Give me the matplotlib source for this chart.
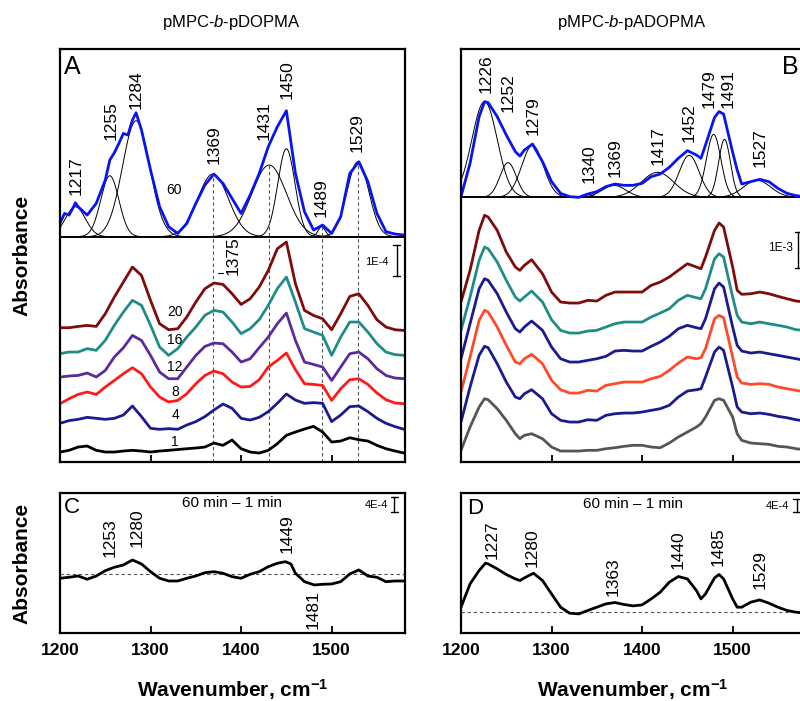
import numpy as np
import matplotlib
matplotlib.use("Agg")
from matplotlib import pyplot as plt

plt.rcParams['font.family'] = ['Liberation Sans', 'DejaVu Sans']
plt.rcParams['mathtext.fontset'] = 'custom'
plt.rcParams['mathtext.rm'] = 'Liberation Sans'
plt.rcParams['mathtext.it'] = 'Liberation Sans:italic'
plt.rcParams['mathtext.bf'] = 'Liberation Sans:bold'
plt.rcParams['lines.solid_joinstyle'] = 'round'
plt.rcParams['lines.solid_capstyle'] = 'round'

# ---------------- panel A : pMPC-b-pDOPMA (absorbance, arb. units) ----------------
a_fit_wn = [1200, 1205, 1210, 1215, 1217, 1220, 1230, 1240, 1250, 1255, 1260, 1265, 1270,
            1275, 1280, 1284, 1290, 1300, 1310, 1320, 1330, 1340, 1350, 1360, 1370, 1380,
            1390, 1400, 1410, 1420, 1430, 1440, 1450, 1460, 1470, 1480, 1490, 1500, 1510,
            1520, 1530, 1540, 1550, 1560, 1570, 1580]
a_fit_abs = [13.3, 23.3, 21.7, 30, 34, 30, 21.7, 33.3, 56.7, 76.7, 84, 93.3, 103.3,
             101.7, 116.7, 124, 106.7, 66.7, 30, 10, 3.3, 13.3, 33.3, 51.7, 62.7, 53.3,
             38.3, 23.3, 41.7, 63.3, 90, 110, 126, 63.3, 25, 6.7, 11.7, 3.3, 20,
             63.3, 75, 55, 23.3, 5, 2.7, 1.7]
# fitted gaussian bands: centre, height, sigma
a_band_pos = [1217, 1255, 1284, 1369, 1431, 1450, 1489, 1529]
a_band_height = [30, 61, 116, 62.7, 71.7, 88, 10, 75]
a_band_sigma = [11, 10, 15, 17, 19, 9.5, 4, 12]

a_wn = list(range(1200, 1590, 10))
a_times = ['1', '4', '8', '12', '16', '20']
a_1 = [0, 1.7, 5, 6, 1.7, 0, 0, 1, 1.7, 1, 0, 1, 1.7, 2.5, 3.3, 4, 5, 9, 6.7, 12,
       3.3, 0, -1, 1.7, 8.3, 16.7, 20, 23, 25.7, 20, 10, 11, 14.3, 12.3, 11, 6.7, 3.3, 1, -1]
a_4 = [6, 8.7, 10, 12, 11, 10, 11, 14.3, 23.3, 12.7, 1, 0, 0.7, 0, 4.3, 7.7, 12.7, 19.3, 25.3, 21,
       11, 9.3, 12, 17.7, 26, 35.3, 29.3, 26, 26.7, 26, 7.7, 14.3, 22.7, 23.3, 17.7, 11, 6, 2.7, 0]
a_8 = [0, 5, 9.3, 11.7, 9.3, 16.7, 23.3, 30, 36, 30, 16.7, 6.7, 1.7, 3.3, 10, 20, 28.3, 32.7, 30, 21.7,
       16.7, 17.3, 24, 36.7, 43.3, 50.7, 34, 20, 19.3, 18.3, 3.3, 15, 24, 25, 19.3, 10.7, 4, 0.7, 0]
a_12 = [1.7, 2.7, 3.3, 5.7, 1.7, 8.3, 21.7, 31, 43.3, 38.3, 23.3, 6.7, 0, 0, 11.7, 23.3, 32.3, 35.7, 35, 26.7,
        16.7, 20, 31, 41.7, 55, 65.7, 38.3, 16.7, 14.3, 11.7, -1.7, 11.7, 25, 26.7, 20, 10, 3.3, 0.7, 0]
a_16 = [0.7, 2.3, 2.3, 5.7, 4, 14, 29, 42.3, 54, 49, 29, 7.3, -1, 5.7, 17.3, 27.3, 39, 44, 42.3, 32.3,
        20.7, 25.7, 34.7, 49, 65.7, 77.3, 52.3, 25.7, 22.3, 19, -1, 17.3, 32.3, 32.3, 22.3, 10.7, 2.3, -0.3, -1]
a_20 = [1, 1, 2.3, 3.3, 2.3, 15, 31.7, 46.7, 61.7, 53.3, 28.3, 5, -1, 0, 11.7, 26.7, 40, 45.7, 44.3, 35,
        24.3, 30, 41.7, 58.3, 80, 86.7, 45, 18.3, 13.3, 10, -1, 15, 32.3, 35, 23.3, 9, 1.7, -1, -1.7]
a_colors = ['#000000', '#1b1b8f', '#ff1a1a', '#5b2a9e', '#1f8c88', '#7d0c0c']

# ---------------- panel B : pMPC-b-pADOPMA ----------------
b_fit_wn = [1200, 1210, 1220, 1226, 1230, 1240, 1250, 1260, 1265, 1270, 1279, 1290, 1300,
            1310, 1320, 1330, 1340, 1350, 1360, 1370, 1380, 1390, 1400, 1410, 1420, 1430,
            1440, 1450, 1460, 1465, 1470, 1480, 1485, 1490, 1500, 1505, 1510, 1520, 1530,
            1540, 1550, 1560, 1570, 1580]
b_fit_abs = [0.7, 34, 80.7, 95.7, 94.7, 80.7, 62.3, 45.7, 41.3, 47.3, 53.3, 35.7, 15.7,
             4, 0.7, 0, 3.3, 5.7, 10.7, 13.3, 12, 12, 14, 20.7, 23.3, 30,
             39, 46.7, 42.3, 39, 52.3, 80, 85.7, 83.3, 45, 27.3, 13.3, 15.7, 18,
             15.7, 9, 4, 1.7, 0.5]
b_band_pos = [1226, 1252, 1279, 1340, 1369, 1417, 1452, 1479, 1491, 1527]
b_band_height = [95.7, 34.7, 52, 3, 12, 25, 42, 63, 58, 17]
b_band_sigma = [14, 9, 12, 5, 13, 18, 11, 8, 6.5, 15]

b_wn = [1200, 1210, 1220, 1226, 1230, 1240, 1250, 1260, 1265, 1270, 1278, 1290, 1300,
        1310, 1320, 1330, 1340, 1350, 1360, 1370, 1380, 1390, 1400, 1410, 1420, 1430,
        1440, 1450, 1460, 1465, 1470, 1480, 1485, 1490, 1500, 1505, 1510, 1520, 1530,
        1540, 1550, 1560, 1570, 1580]
b_1 = [0.7, 24, 44, 52.3, 51.3, 42.3, 30.7, 17.3, 12.3, 15.7, 17.3, 12.3, 4, 0, 0, 0, 0.7, 0.7, 2.3, 3.3,
       4.7, 5.7, 5.7, 4, 3.3, 8, 14, 19, 24, 27.3, 34, 50.7, 52.3, 50.7, 34, 17.3, 10.7, 8, 7.3, 6.7,
       4.7, 4, 2.3, 1.3]
b_4 = [0, 35, 66.7, 75.7, 74.3, 58.3, 40, 25, 23.3, 28.3, 32.3, 23.3, 8.3, 1.7, 0, 0, 2.3, 1.7, 6.7, 8.3,
       9, 9, 10, 11.7, 13.3, 16.7, 25, 31, 32.3, 33.3, 45, 70, 75, 71.7, 35, 15, 10, 8.3, 9, 7.7,
       5.7, 4.3, 2.3, 1]
b_8 = [1, 36, 72.7, 82.7, 81, 66, 47.7, 31, 29.3, 34.3, 38.7, 29.3, 12.7, 3.3, 0, 0, 2.7, 2, 7.7, 9.3,
       11, 11, 11, 14.3, 16.7, 22.7, 30, 36, 34.3, 35.3, 44.3, 74.3, 77.7, 75.3, 36, 16, 10, 8.7, 9.3, 8.7,
       6, 4.3, 2.7, 1]
b_12 = [3.3, 38.3, 73.3, 83.3, 81.7, 68.3, 50, 33.3, 30, 35, 41, 31.7, 15, 3.3, 0, 0, 1.7, 3.3, 5.7, 11,
        11.7, 11, 11, 15.7, 20, 25.7, 33.3, 36.7, 34.3, 33.3, 43.3, 73.3, 79, 75, 35, 16.7, 11, 9, 10, 8.3,
        6.7, 5, 3.3, 1.7]
b_16 = [2.7, 36, 72.7, 86, 84.3, 71, 52.7, 36, 32, 36, 42, 31, 13.3, 2.7, 0, 0, 2, 2.7, 6, 9.3,
        11, 11, 11, 16, 20, 24.3, 32.7, 37.7, 35.3, 34.3, 44.3, 74.3, 79.3, 76, 36, 17.7, 11, 9.3, 11, 9.3,
        7.7, 6, 3.3, 2.7]
b_20 = [1, 32.7, 72.7, 87.7, 86, 72.7, 51, 36, 32.7, 37.7, 43.3, 29.3, 11, 1, 0, 0, 2.7, 2, 7.7, 11,
        11, 11, 11, 17.7, 21, 26, 32.7, 39.3, 36, 34.3, 46, 72.7, 80, 76, 36, 12.7, 8.7, 9.3, 11, 9.3,
        6.7, 4.3, 2, 1]
b_colors = ['#555555', '#1b1b8f', '#ff4a2a', '#1b1b8f', '#1f8c88', '#7d0c0c']

# ---------------- panels C / D : 60 min - 1 min difference ----------------
c_wn = [1200, 1210, 1220, 1230, 1240, 1250, 1260, 1270, 1280, 1290, 1300, 1310, 1320, 1330,
        1340, 1350, 1360, 1370, 1380, 1390, 1400, 1410, 1420, 1430, 1440, 1449, 1455, 1460,
        1470, 1481, 1490, 1500, 1510, 1520, 1530, 1540, 1550, 1560, 1570, 1580]
c_diff = [-4.3, -3.3, -2, -5.3, -2, 3.3, 6.7, 9, 14, 10, 2.3, -4.3, -7, -7,
          -4.3, -2, 1.3, 2.3, 0.7, -2.7, -4.3, -0.3, 2.3, 7.3, 10.7, 12.3, 10, 0.7,
          -7.7, -11, -10.3, -10, -7.7, 0, 4, -2, -3.3, -7.7, -7, -7]
d_wn = [1200, 1210, 1220, 1227, 1230, 1240, 1250, 1260, 1265, 1270, 1280, 1290, 1300, 1310,
        1320, 1330, 1340, 1350, 1360, 1370, 1380, 1390, 1400, 1410, 1420, 1430, 1440, 1450,
        1460, 1465, 1470, 1480, 1485, 1490, 1500, 1505, 1510, 1520, 1530, 1540, 1550, 1560,
        1570, 1580]
d_diff = [5, 28.3, 41.7, 49, 48.3, 43.3, 37.7, 33.3, 31.7, 34.3, 39, 31.7, 18.3, 5,
          -1, -1.7, 1.7, 5, 8.3, 9.7, 7.7, 6.3, 7.3, 13.3, 20, 30, 35.7, 33.3,
          21.7, 13.3, 18.3, 34.3, 37.7, 33.3, 13.3, 5, 5, 10, 12.3, 9, 5, 1.7,
          0, -1]
c_labels = ['1253', '1280', '1449', '1481']
d_labels = ['1227', '1280', '1363', '1440', '1485', '1529']

XMAX = 1581


def frame(ax, labels=False):
    ax.set_xlim(1200, XMAX)
    ax.set_yticks([])
    ax.set_xticks([1200, 1300, 1400, 1500])
    ax.tick_params(axis='x', direction='in', length=5, width=1.3, pad=7,
                   labelbottom=labels, labelsize=12.5)
    if labels:
        for t in ax.get_xticklabels():
            t.set_fontweight('bold')
    for s in ax.spines.values():
        s.set_linewidth(1.6)


def scale_bar(ax, x, y0, y1, text, tx, ty, size=8):
    ax.plot([x, x], [y0, y1], color='k', lw=1)
    ax.plot([x - 4, x + 4], [y0, y0], color='k', lw=1)
    ax.plot([x - 4, x + 4], [y1, y1], color='k', lw=1)
    ax.text(tx, ty, text, fontsize=size, ha='center', va='center')


def gauss(x, c, h, s):
    return h * np.exp(-(x - c) ** 2 / (2 * s ** 2))


fig = plt.figure(figsize=(8, 7.01), dpi=100)
axA = fig.add_axes([0.075, 0.3409, 0.43125, 0.5887])
axB = fig.add_axes([0.57625, 0.3409, 0.43125, 0.5887])
axC = fig.add_axes([0.075, 0.0966, 0.43125, 0.2006])
axD = fig.add_axes([0.57625, 0.0973, 0.43125, 0.1991])

xs = np.linspace(1200, XMAX, 600)

# ---- A ----
fitA = 225.3
axA.set_ylim(0, 412.7)
frame(axA)
axA.axhline(fitA, color='k', lw=1.2)
for c, h, s in zip(a_band_pos, a_band_height, a_band_sigma):
    axA.plot(xs, fitA + gauss(xs, c, h, s), color='k', lw=0.7)
axA.plot(a_fit_wn, fitA + np.array(a_fit_abs), color='#0a14f0', lw=2)
for c, h, s in zip(a_band_pos, a_band_height, a_band_sigma):
    if c in (1369, 1431, 1489, 1529):
        axA.plot([c, c], [0, fitA + h], color='#555555', lw=0.8, ls=(0, (3, 2.5)))
a_lab_x = [1218, 1257, 1284, 1370, 1425, 1451, 1488, 1528.5]
a_lab_y = [267, 322, 353.3, 298.3, 322.3, 363.3, 245.3, 310.3]
for c, x, y in zip(a_band_pos, a_lab_x, a_lab_y):
    axA.text(x, y, str(c), rotation=90, ha='center', va='bottom', fontsize=12.5)
axA.text(1326, fitA + 47, '60', fontsize=10, ha='center', va='center')

a_offsets = [10, 32.7, 58.3, 83.3, 107.7, 133.3]
a_lab_pos = [20.3, 47, 70.3, 95.3, 122, 150.3]
for spec, col, off, t, ly in zip([a_1, a_4, a_8, a_12, a_16, a_20], a_colors,
                                 a_offsets, a_times, a_lab_pos):
    axA.plot(a_wn, off + np.array(spec), color=col, lw=2)
    axA.text(1327, ly, t, fontsize=10, ha='center', va='center')
axA.plot([1375, 1380], [189.3, 189.3], color='k', lw=0.8)
axA.text(1391, 187, '1375', rotation=90, ha='center', va='bottom', fontsize=12.5)
scale_bar(axA, 1572, 186, 217, '1E-4', 1550, 200.3)
axA.text(1214, 395, 'A', fontsize=18, ha='center', va='center')

# ---- B ----
fitB = 264.7
axB.set_ylim(0, 412.7)
frame(axB)
axB.axhline(fitB, color='k', lw=1.2)
for c, h, s in zip(b_band_pos, b_band_height, b_band_sigma):
    axB.plot(xs, fitB + gauss(xs, c, h, s), color='k', lw=0.7)
axB.plot(b_fit_wn, fitB + np.array(b_fit_abs), color='#0a14f0', lw=2)
b_lab_x = [1227.6, 1252.3, 1280, 1341.8, 1370, 1418, 1452.3, 1474.4, 1495.4, 1530.4]
b_lab_y = [368.7, 350.4, 327, 278.7, 285.4, 297, 320.4, 353.7, 353.7, 295.4]
for c, x, y in zip(b_band_pos, b_lab_x, b_lab_y):
    axB.text(x, y, str(c), rotation=90, ha='center', va='bottom', fontsize=12.5)

b_offsets = [11, 40, 69, 100, 129, 159]
for spec, col, off in zip([b_1, b_4, b_8, b_12, b_16, b_20], b_colors, b_offsets):
    axB.plot(b_wn, off + np.array(spec), color=col, lw=2)
scale_bar(axB, 1572.4, 194, 230, '1E-3', 1552.5, 214, size=8.5)
axB.text(1563.5, 395, 'B', fontsize=18, ha='center', va='center')

# ---- C ----
baseC = 59.3
axC.set_ylim(0, 140.6)
frame(axC, labels=True)
axC.axhline(baseC, color='#555555', lw=0.8, ls=(0, (3, 2.5)))
axC.plot(c_wn, baseC + np.array(c_diff), color='k', lw=2)
c_lab_x = [1255, 1284.7, 1451, 1480]
c_lab_y = [76, 86.6, 80, 43.3]
for t, x, y in zip(c_labels, c_lab_x, c_lab_y):
    axC.text(x, y, t, rotation=90, ha='center', va='bottom' if t != '1481' else 'top',
             fontsize=12.5)
axC.text(1389.7, 130, '60 min \u2013 1 min', fontsize=11, ha='center', va='center')
scale_bar(axC, 1569, 121.6, 136.6, '4E-4', 1550, 128.3)
axC.text(1213, 125.3, 'C', fontsize=16, ha='center', va='center')

# ---- D ----
baseD = 20.6
axD.set_ylim(0, 139.6)
frame(axD, labels=True)
axD.axhline(baseD, color='#555555', lw=0.8, ls=(0, (3, 2.5)))
axD.plot(d_wn, baseD + np.array(d_diff), color='k', lw=2)
d_lab_x = [1234, 1278, 1367.6, 1440, 1484, 1530]
d_lab_y = [73.9, 65.6, 37.3, 63.9, 67.3, 43.9]
for t, x, y in zip(d_labels, d_lab_x, d_lab_y):
    axD.text(x, y, t, rotation=90, ha='center', va='bottom', fontsize=12.5)
axD.text(1390.4, 129, '60 min \u2013 1 min', fontsize=11, ha='center', va='center')
scale_bar(axD, 1571, 120.6, 134.3, '4E-4', 1550, 127.3)
axD.text(1215.5, 124.3, 'D', fontsize=16, ha='center', va='center')

# shared labels
fig.text(22 / 800, 1 - 255 / 701, 'Absorbance', rotation=90, fontsize=15,
         fontweight='bold', ha='center', va='center')
fig.text(22 / 800, 1 - 563 / 701, 'Absorbance', rotation=90, fontsize=15,
         fontweight='bold', ha='center', va='center')
for xc in (232.5 / 800, 633 / 800):
    fig.text(xc, 1 - 690 / 701, r'Wavenumber, cm$^{\mathbf{-1}}$', fontsize=15,
             fontweight='bold', ha='center', va='center')
fig.text(231.7 / 800, 1 - 22 / 701, r'pMPC-$\it{b}$-pDOPMA', fontsize=12,
         ha='center', va='center')
fig.text(632 / 800, 1 - 22 / 701, r'pMPC-$\it{b}$-pADOPMA', fontsize=12,
         ha='center', va='center')

fig.savefig('out.png', dpi=100)
